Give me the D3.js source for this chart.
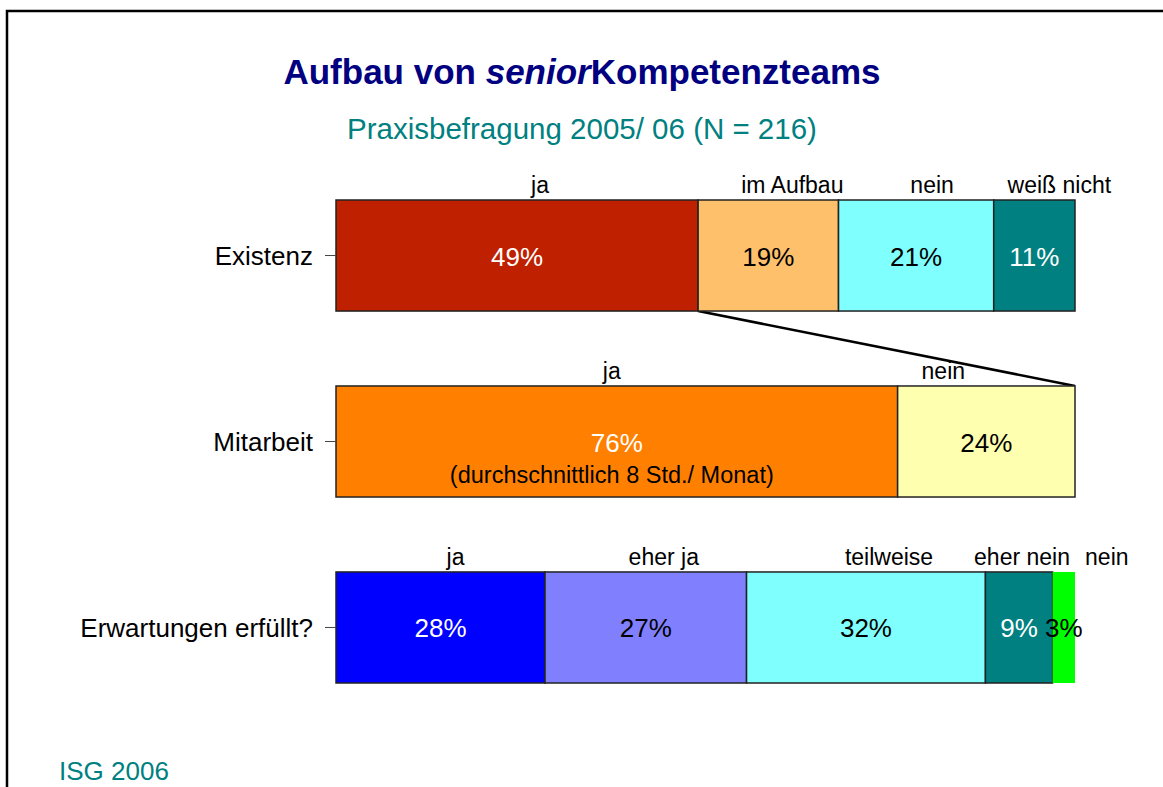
<!DOCTYPE html>
<html>
  <head>
    <meta charset="utf-8" />
    <style>
      body { margin: 0; background: #fff; }
      text { font-family: "Liberation Sans", Arial, sans-serif; }
      .axis path { display: none; }
      .axis line { stroke: #444; }
      .axis text { font-size: 26px; fill: #000; }
    </style>
  </head>
  <body>
    <svg width="1163" height="787"></svg>
    <script src="https://d3js.org/d3.v7.min.js"></script>
    <script>
      // data
      var rows = ["Existenz", "Mitarbeit", "Erwartungen erfüllt?"];
      var existenzLabels = ["ja", "im Aufbau", "nein", "weiß nicht"];
      var existenzValues = [49, 19, 21, 11];
      var mitarbeitLabels = ["ja", "nein"];
      var mitarbeitValues = [76, 24];
      var erwartungLabels = ["ja", "eher ja", "teilweise", "eher nein", "nein"];
      var erwartungValues = [28, 27, 32, 9, 3];
      var mitarbeitNote = "(durchschnittlich 8 Std./ Monat)";

      // styles
      var fills = [
        ["#BF2000", "#FFC06C", "#80FFFF", "#008080"],
        ["#FF8000", "#FFFFB0"],
        ["#0000FF", "#8080FF", "#80FFFF", "#008080", "#00FF00"]
      ];
      var textFills = [
        ["#fff", "#000", "#000", "#fff"],
        ["#fff", "#000"],
        ["#fff", "#000", "#000", "#fff", "#000"]
      ];
      // label shifts as in the slide (px)
      var labelNudge = [[23, 24, 16, 25], [-5, -43], [15, 18, 23, 3, 43]];

      var series = [
        { labels: existenzLabels, values: existenzValues },
        { labels: mitarbeitLabels, values: mitarbeitValues },
        { labels: erwartungLabels, values: erwartungValues }
      ];

      var svg = d3.select("svg");

      // frame
      svg.append("path")
        .attr("d", "M7,787 L7,11 L1163,11")
        .attr("fill", "none")
        .attr("stroke", "#000")
        .attr("stroke-width", 2.5);

      // title
      var title = svg.append("text")
        .attr("x", 582).attr("y", 84)
        .attr("text-anchor", "middle")
        .style("font-size", "35px")
        .style("font-weight", "bold")
        .attr("fill", "#000080");
      title.append("tspan").text("Aufbau von ");
      title.append("tspan").style("font-style", "italic").text("senior");
      title.append("tspan").text("Kompetenzteams");

      svg.append("text")
        .attr("x", 582).attr("y", 139)
        .attr("text-anchor", "middle")
        .style("font-size", "29.5px")
        .attr("fill", "#008080")
        .text("Praxisbefragung 2005/ 06 (N = 216)");

      svg.append("text")
        .attr("x", 59).attr("y", 780)
        .style("font-size", "26px")
        .attr("fill", "#008080")
        .text("ISG 2006");

      var x = d3.scaleLinear().domain([0, 1]).range([336, 1075]);
      var y = d3.scaleBand().domain(rows).range([200, 683]).paddingInner(0.403).paddingOuter(0);

      // connector from "ja" of Existenz to Mitarbeit bar
      var jaShare = existenzValues[0] / d3.sum(existenzValues);
      svg.append("line")
        .attr("x1", x(jaShare)).attr("y1", y(rows[0]) + y.bandwidth())
        .attr("x2", x(1)).attr("y2", y(rows[1]))
        .attr("stroke", "#000")
        .attr("stroke-width", 2.5);

      series.forEach(function (s, r) {
        var total = d3.sum(s.values);
        var cum = 0;
        var segs = s.values.map(function (v, i) {
          var seg = { label: s.labels[i], value: v, x0: cum / total, x1: (cum + v) / total, i: i };
          cum += v;
          return seg;
        });
        var top = y(rows[r]);
        var h = y.bandwidth();
        var g = svg.append("g");

        g.selectAll("rect")
          .data(segs)
          .join("rect")
          .attr("x", function (d) { return x(d.x0); })
          .attr("y", top)
          .attr("width", function (d) { return x(d.x1) - x(d.x0); })
          .attr("height", h)
          .attr("fill", function (d) { return fills[r][d.i]; })
          .attr("stroke", function (d) { return d.value < 5 ? "none" : "#222"; })
          .attr("stroke-width", 1.5);

        g.selectAll("text.pct")
          .data(segs)
          .join("text")
          .attr("class", "pct")
          .attr("x", function (d) { return (x(d.x0) + x(d.x1)) / 2; })
          .attr("y", r === 1 ? top + 66 : top + h / 2 + 10)
          .attr("text-anchor", "middle")
          .style("font-size", "26px")
          .attr("fill", function (d) { return textFills[r][d.i]; })
          .text(function (d) { return d.value + "%"; });

        g.selectAll("text.lab")
          .data(segs)
          .join("text")
          .attr("class", "lab")
          .attr("x", function (d) { return (x(d.x0) + x(d.x1)) / 2 + labelNudge[r][d.i]; })
          .attr("y", top - 7)
          .attr("text-anchor", "middle")
          .style("font-size", "23px")
          .attr("fill", "#000")
          .text(function (d) { return d.label; });

        if (r === 1) {
          g.append("text")
            .attr("x", (x(segs[0].x0) + x(segs[0].x1)) / 2 - 5)
            .attr("y", top + 97)
            .attr("text-anchor", "middle")
            .style("font-size", "23.5px")
            .attr("fill", "#000")
            .text(mitarbeitNote);
        }
      });

      svg.append("g")
        .attr("class", "axis")
        .attr("transform", "translate(336,0)")
        .call(d3.axisLeft(y).tickSize(11).tickPadding(12))
        .selectAll("text")
        .attr("dy", "0.35em");
    </script>
  </body>
</html>
